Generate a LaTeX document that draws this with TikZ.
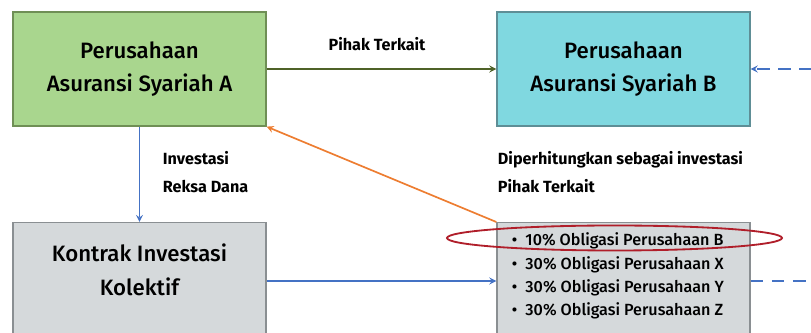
\documentclass[tikz,border=0pt]{standalone}
\usepackage{fontspec}
\setmainfont{Fira Sans}
\newfontfamily\sedang{Fira Sans Medium}
\usepackage{tikz}
\usetikzlibrary{arrows}
\definecolor{greenA}{HTML}{A9D68E}
\definecolor{greenAline}{HTML}{6F8F55}
\definecolor{cyanB}{HTML}{80D8E0}
\definecolor{cyanBline}{HTML}{5E8E96}
\definecolor{grayK}{HTML}{D5D9DB}
\definecolor{grayKline}{HTML}{8A8F92}
\definecolor{arrowgreen}{HTML}{4F6228}
\definecolor{arrowblue}{HTML}{4472C4}
\definecolor{arroworange}{HTML}{ED7D31}
\definecolor{ringred}{HTML}{B01E2A}
\tikzstyle{kotak}=[rectangle, draw, line width=0.9pt, minimum width=6.325cm, minimum height=2.85cm, inner sep=0pt]
\tikzstyle{judul}=[align=center, font=\sedang\fontsize{15.8}{24}\selectfont]
\tikzstyle{ket}=[align=left, font=\bfseries\fontsize{11.5}{20}\selectfont]
\tikzstyle{panah}=[-stealth, line width=1.2pt]

\begin{document}
\begin{tikzpicture}[x=0.025cm, y=-0.025cm]
			\useasboundingbox (0,0) rectangle (811,333);
			\node[kotak, fill=greenA, draw=greenAline] (asA) at (139.5,69) {};
			\node[judul] (asAtxt) at (asA) {Perusahaan\\Asuransi Syariah A};
			\node[kotak, fill=cyanB, draw=cyanBline] (asB) at (623.5,69) {};
			\node[judul] (asBtxt) at (asB) {Perusahaan\\Asuransi Syariah B};
			\node[kotak, fill=grayK, draw=grayKline, anchor=north] (kik) at (139.5,222) {};
			\node[judul] (kiktxt) at (139.5,270) {Kontrak Investasi\\Kolektif};
			\node[kotak, fill=grayK, draw=grayKline, anchor=north] (lst) at (623.5,222) {};
			\node[align=left, anchor=north west, font=\sedang\fontsize{11.5}{16.5}\selectfont] (lsttxt) at (507,228)
				{\textbullet\ \ 10\% Obligasi Perusahaan B\\
				 \textbullet\ \ 30\% Obligasi Perusahaan X\\
				 \textbullet\ \ 30\% Obligasi Perusahaan Y\\
				 \textbullet\ \ 30\% Obligasi Perusahaan Z};
			% keterangan
			\node[ket] (pihak) at (377,44) {Pihak Terkait};
			\node[ket, anchor=west] (reksa) at (158,172) {Investasi\\Reksa Dana};
			\node[ket, anchor=west] (hitung) at (493,172) {Diperhitungkan sebagai investasi\\Pihak Terkait};
			\coordinate (ujung1) at (812,69);
			\coordinate (ujung2) at (812,281);
			% panah
			\path[panah]
				(asA)[draw=arrowgreen]--(asB);
			\draw[panah, arrowblue] (asA)--(kik);
			\draw[panah, arrowblue] (kik.east |- ujung2)--(lst.west |- ujung2);
			\draw[panah, arroworange] (lst.north west)--(asA.south east);
			\draw[arrowblue, line width=1.2pt, dash pattern=on 9pt off 6pt] (lst.east |- ujung2)--(ujung2);
			\draw[panah, arrowblue, dash pattern=on 9pt off 6pt] (ujung1)--(asB.east);
			\draw[ringred, line width=1.3pt] (614.5,238) ellipse [x radius=167.5, y radius=12.5];
		\end{tikzpicture}
\end{document}
